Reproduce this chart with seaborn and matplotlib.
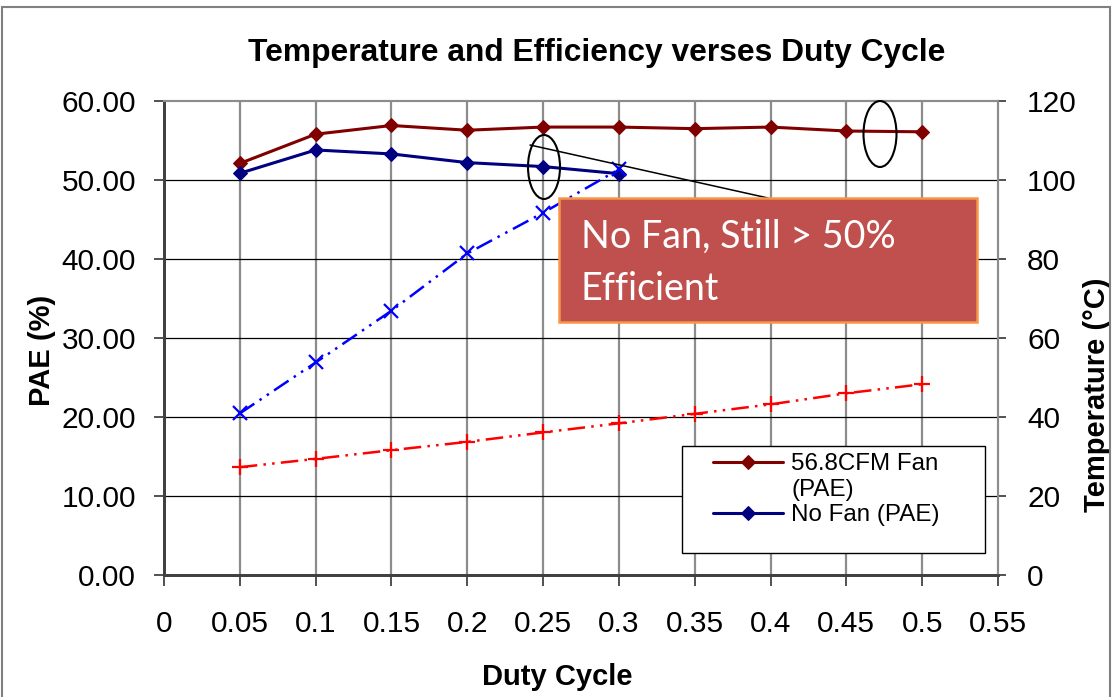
import matplotlib
matplotlib.use("Agg")
import matplotlib.pyplot as plt
import seaborn as sns
from matplotlib.patches import Rectangle, Ellipse
from matplotlib.lines import Line2D

# ---------------- data ----------------
duty_cycle = [0.05, 0.10, 0.15, 0.20, 0.25, 0.30, 0.35, 0.40, 0.45, 0.50]
pae_fan = [52.1, 55.8, 56.9, 56.3, 56.7, 56.7, 56.5, 56.7, 56.2, 56.1]
temp_fan = [27.3, 29.4, 31.6, 33.7, 36.1, 38.4, 40.8, 43.2, 46.0, 48.3]

duty_cycle_nofan = [0.05, 0.10, 0.15, 0.20, 0.25, 0.30]
pae_nofan = [50.85, 53.8, 53.3, 52.2, 51.7, 50.8]
temp_nofan = [40.9, 53.8, 66.9, 81.4, 91.7, 102.7]

x_ticks = [0, 0.05, 0.10, 0.15, 0.20, 0.25, 0.30, 0.35, 0.40, 0.45, 0.50, 0.55]
x_tick_labels = ["0", "0.05", "0.1", "0.15", "0.2", "0.25", "0.3", "0.35",
                 "0.4", "0.45", "0.5", "0.55"]
pae_ticks = [0, 10, 20, 30, 40, 50, 60]
temp_ticks = [0, 20, 40, 60, 80, 100, 120]
legend_labels = ["56.8CFM Fan", "(PAE)", "No Fan (PAE)"]

title = "Temperature and Efficiency verses Duty Cycle"
xlabel = "Duty Cycle"
ylabel_left = "PAE (%)"
ylabel_right = "Temperature (°C)"
note_lines = ["No Fan, Still > 50%", "Efficient"]

# ---------------- style ----------------
sns.set_style("white")
plt.rcParams["font.family"] = ["Liberation Sans", "DejaVu Sans"]
plt.rcParams["text.color"] = "black"
plt.rcParams["xtick.color"] = "black"
plt.rcParams["ytick.color"] = "black"
plt.rcParams["axes.labelcolor"] = "black"

W, H = 1120, 697
fig = plt.figure(figsize=(W / 100, H / 100), dpi=100)


def fx(px):
    return px / W


def fy(py):
    return 1 - py / H


L, R, T, B = 164, 998, 101, 575
ax = fig.add_axes([fx(L), fy(B), fx(R) - fx(L), fy(T) - fy(B)])
ax2 = ax.twinx()
ax.set_zorder(1)
ax2.set_zorder(2)
ax.patch.set_visible(True)
ax.patch.set_facecolor("white")
ax2.patch.set_visible(False)

# PAE lines (left axis)
sns.lineplot(x=duty_cycle, y=pae_fan, ax=ax, color="#800000", lw=2.2,
             marker="D", markersize=7.5, markeredgecolor="#800000",
             markerfacecolor="#800000", legend=False, zorder=4)
sns.lineplot(x=duty_cycle_nofan, y=pae_nofan, ax=ax, color="#000080", lw=2.2,
             marker="D", markersize=7.5, markeredgecolor="#000080",
             markerfacecolor="#000080", legend=False, zorder=4)

# Temperature lines (right axis)
dash = (0, (7, 2.5, 1, 2.5, 1, 2.5))
sns.lineplot(x=duty_cycle, y=temp_fan, ax=ax2, color="#FF0000", lw=1.8,
             linestyle=dash, marker="+", markersize=11, markeredgewidth=1.6,
             markeredgecolor="#FF0000", legend=False, zorder=3)
sns.lineplot(x=duty_cycle_nofan, y=temp_nofan, ax=ax2, color="#0000FF", lw=1.8,
             linestyle=dash, marker="x", markersize=10, markeredgewidth=1.6,
             markeredgecolor="#0000FF", legend=False, zorder=3)

# axes limits & ticks
ax.set_xlim(0, 0.55)
ax.set_ylim(0, 60)
ax2.set_ylim(0, 120)
ax.set_xticks(x_ticks)
ax.set_xticklabels(x_tick_labels)
ax.set_yticks(pae_ticks)
ax.set_yticklabels([f"{v:.2f}" for v in pae_ticks])
ax2.set_yticks(temp_ticks)
ax2.set_yticklabels([str(v) for v in temp_ticks])
ax.set_xlabel("")
ax.set_ylabel("")
ax2.set_ylabel("")

ax.tick_params(axis="y", direction="out", length=7, width=1.2, pad=13,
               labelsize=21.5, color="#333333", labelcolor="black", left=True)
ax.tick_params(axis="x", direction="out", length=8, width=1.2, pad=17,
               labelsize=21.5, color="#333333", labelcolor="black", bottom=True)
ax2.tick_params(axis="y", direction="out", length=6, width=1.2, pad=15,
                labelsize=21.5, color="#333333", labelcolor="black", right=True)

# grid
for xv in x_ticks[1:-1]:
    ax.axvline(xv, color="#8c8c8c", lw=1.6, zorder=1)
for yv in pae_ticks[1:-1]:
    ax.axhline(yv, color="black", lw=0.9, zorder=1)

for a in (ax, ax2):
    a.spines["left"].set_color("#404040")
    a.spines["left"].set_linewidth(2)
    a.spines["bottom"].set_color("#404040")
    a.spines["bottom"].set_linewidth(2)
    a.spines["top"].set_color("#8c8c8c")
    a.spines["top"].set_linewidth(1.5)
    a.spines["right"].set_color("#8c8c8c")
    a.spines["right"].set_linewidth(1.5)
    for s in a.spines.values():
        s.set_visible(True)

# legend box
ax2.add_patch(Rectangle((fx(682), fy(553)), fx(985) - fx(682), fy(446) - fy(553),
                        transform=fig.transFigure, facecolor="white",
                        edgecolor="black", lw=1.0, clip_on=False, zorder=6))
pae_lines = ax.get_lines()[:2]
blank = Line2D([], [], color="none", marker=None)
leg = ax2.legend(handles=[pae_lines[0], blank, pae_lines[1]], labels=legend_labels,
                 loc="upper left",
                 bbox_to_anchor=(fx(713), fy(453)), bbox_transform=fig.transFigure,
                 frameon=False, fontsize=17.4, borderpad=0, borderaxespad=0,
                 handlelength=2.9, handletextpad=0.33, labelspacing=0.15)
leg.set_zorder(7)

# texts
fig.text(fx(597), fy(53), title, ha="center", va="center",
         fontsize=22.9, fontweight="bold")
fig.text(fx(557), fy(677), xlabel, ha="center", va="center",
         fontsize=21, fontweight="bold")
fig.text(fx(42), fy(350), ylabel_left, ha="center", va="center",
         rotation=90, fontsize=21, fontweight="bold")
fig.text(fx(1097), fy(395), ylabel_right, ha="center", va="center",
         rotation=90, fontsize=21, fontweight="bold")

# annotation box, callout line and ellipses (drawn above the axes)
fig.add_artist(Line2D([fx(530), fx(768)], [fy(145), fy(198)], color="black",
                      lw=1.1, transform=fig.transFigure, zorder=10))
fig.add_artist(Rectangle((fx(559), fy(322)), fx(977) - fx(559), fy(198) - fy(322),
                         transform=fig.transFigure, facecolor="#C0504D",
                         edgecolor="#F79646", lw=1.8, zorder=11))
note_font = ["Lato", "DejaVu Sans"]
note_texts = []
for line, ypx in zip(note_lines, [248, 300]):
    t = fig.text(fx(581), fy(ypx), line, color="white", fontsize=28,
                 family=note_font, va="baseline")
    t.set_zorder(12)
    note_texts.append(t)
# fit the first line to the reference width (~315 px)
renderer = fig.canvas.get_renderer()
w0 = note_texts[0].get_window_extent(renderer).width
scale = 315 / w0
for t in note_texts:
    t.set_fontsize(28 * scale)

fig.add_artist(Ellipse((fx(544), fy(167)), fx(32), 64 / H, transform=fig.transFigure,
                       fill=False, edgecolor="black", lw=1.5, zorder=10))
fig.add_artist(Ellipse((fx(880), fy(134)), fx(33), 66 / H, transform=fig.transFigure,
                       fill=False, edgecolor="black", lw=1.5, zorder=10))

# chart-area border
fig.add_artist(Rectangle((fx(1.5), fy(700)), fx(1108), 693 / H,
                         transform=fig.transFigure, fill=False,
                         edgecolor="#808080", lw=1.5, clip_on=False, zorder=10))

fig.savefig("out.png", dpi=100)
